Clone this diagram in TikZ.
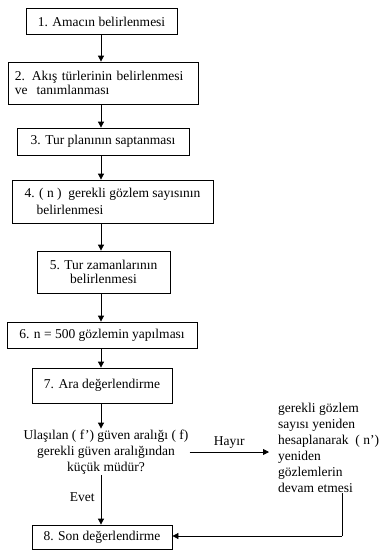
\documentclass[tikz,border=0pt]{standalone}
\usepackage{fontspec}
\setmainfont{Liberation Serif}
\usetikzlibrary{arrows.meta}
\begin{document}
\begin{tikzpicture}[x=1pt,y=-1pt,
  font=\fontsize{13.5}{14.5}\selectfont,
  box/.style={draw,line width=0.8pt,rectangle,inner sep=0pt},
  arr/.style={line width=0.8pt,-{Triangle[length=6pt,width=6pt]}},
  ln/.style={line width=0.8pt}]
\useasboundingbox (0,0) rectangle (389,550);
\coordinate (spine) at (101,0);
\node[box,minimum width=151pt,minimum height=26pt] (b1) at (101.5,21.5) {1. Amacın belirlenmesi};
\node[box,minimum width=190pt,minimum height=42pt,text width=176pt,align=left] (b2) at (103,83) {2. Akış türlerinin belirlenmesi\\ve\ \ tanımlanması};
\node[box,minimum width=172pt,minimum height=27pt] (b3) at (103,141.5) {3. Tur planının saptanması};
\node[box,minimum width=201pt,minimum height=43pt,align=left,font=\fontsize{13.5}{17}\selectfont] (b4) at (112.5,201.5) {4. ( n )\ \ gerekli gözlem sayısının\\\hspace*{12pt}belirlenmesi};
\node[box,minimum width=133pt,minimum height=42pt,align=center] (b5) at (103.5,272) {5. Tur zamanlarının\\belirlenmesi};
\node[box,minimum width=190pt,minimum height=26pt] (b6) at (102,335) {6. n = 500 gözlemin yapılması};
\node[box,minimum width=140pt,minimum height=35pt] (b7) at (102,385.5) {7. Ara değerlendirme};
\node[align=center,inner sep=1pt,font=\fontsize{13.5}{16}\selectfont] (d) at (106,452) {Ulaşılan ( f’) güven aralığı ( f)\\gerekli güven aralığından\\küçük müdür?};
\node[box,minimum width=140pt,minimum height=24pt] (b8) at (102,537) {8. Son değerlendirme};
\node[anchor=west,align=left,inner sep=0pt,font=\fontsize{13.5}{16}\selectfont] (r) at (278,448) {gerekli gözlem\\sayısı yeniden\\hesaplanarak\ \ ( n’)\\yeniden\\gözlemlerin\\devam etmesi};
\coordinate (rx) at (342,0);
\coordinate (turn) at (342,536);
\coordinate (hend) at (269,452);
\draw[arr] (b1.south -| spine) -- (b2.north -| spine);
\draw[arr] (b2.south -| spine) -- (b3.north -| spine);
\draw[arr] (b3.south -| spine) -- (b4.north -| spine);
\draw[arr] (b4.south -| spine) -- (b5.north -| spine);
\draw[arr] (b5.south -| spine) -- (b6.north -| spine);
\draw[arr] (b6.south -| spine) -- (b7.north -| spine);
\draw[arr] (b7.south -| spine) -- (d.north -| spine);
\draw[arr] (d.south -| spine) -- node[left,pos=0.45,inner sep=6pt] {Evet} (b8.north -| spine);
\draw[arr] (d.east) -- node[above,inner sep=3pt] {Hayır} (hend);
\draw[ln] (r.south -| rx) -- (turn);
\draw[arr] (turn) -- (b8.east |- turn);
\end{tikzpicture}
\end{document}
